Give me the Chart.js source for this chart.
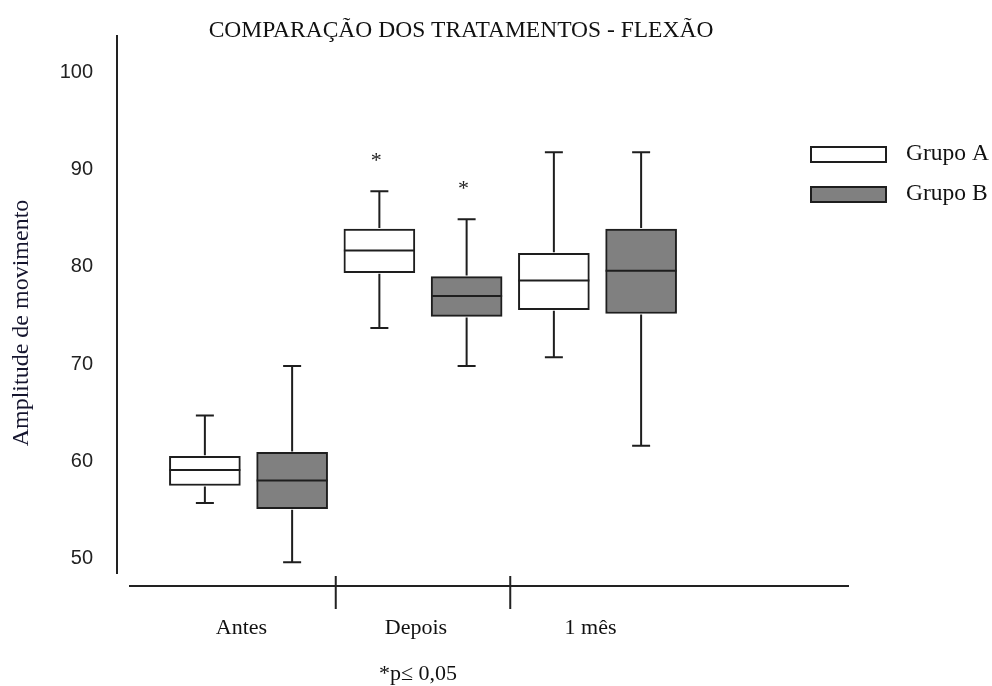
<!DOCTYPE html>
<html lang="pt">
<head>
<meta charset="utf-8">
<title>Comparação dos tratamentos - flexão</title>
<script src="https://cdn.jsdelivr.net/npm/chart.js@4/dist/chart.umd.min.js"></script>
<style>
  html, body { margin: 0; padding: 0; background: #ffffff; }
  #wrap { width: 992px; height: 686px; position: relative; }
</style>
</head>
<body>
<div id="wrap"><canvas id="chart" width="992" height="686"></canvas></div>
<script>
// Momentos de avaliação
const CATEGORIES = ['Antes', 'Depois', '1 mês'];

// Grupo A: mínimo, 1º quartil, mediana, 3º quartil, máximo
const A_MIN = [55.7, 73.7, 70.7];
const A_Q1  = [57.5, 79.4, 75.6];
const A_MED = [59.1, 81.7, 78.6];
const A_Q3  = [60.5, 83.9, 81.4];
const A_MAX = [64.7, 87.8, 91.8];

// Grupo B
const B_MIN = [49.6, 69.8, 61.6];
const B_Q1  = [55.1, 74.9, 75.2];
const B_MED = [58.0, 77.0, 79.6];
const B_Q3  = [60.9, 79.0, 83.9];
const B_MAX = [69.8, 84.9, 91.8];

// Diferença significativa (p ≤ 0,05) marcada com asterisco
const SIG_A = [false, true, false];
const SIG_B = [false, true, false];

const Y_TICKS = [50, 60, 70, 80, 90, 100];

const SERIF = '"Liberation Serif", "Times New Roman", serif';
const SANS = '"Liberation Sans", Arial, sans-serif';
const INK = '#1e1e1e';

const GROUPS = [
  { label: 'Grupo A', fill: '#ffffff', min: A_MIN, q1: A_Q1, med: A_MED, q3: A_Q3, max: A_MAX, sig: SIG_A, shift: -0.25 },
  { label: 'Grupo B', fill: '#808080', min: B_MIN, q1: B_Q1, med: B_MED, q3: B_Q3, max: B_MAX, sig: SIG_B, shift: 0.25 }
];

// Caixas (intervalo interquartil) como barras flutuantes
const datasets = GROUPS.map(g => ({
  label: g.label,
  data: CATEGORIES.map((c, i) => ({ x: i + g.shift, y: [g.q1[i], g.q3[i]] })),
  backgroundColor: g.fill,
  borderColor: INK,
  borderWidth: 2,
  borderSkipped: false,
  barThickness: 71,
  grouped: false
}));

// Bigodes, medianas, asteriscos, eixos e textos
const boxPlotDecor = {
  id: 'boxPlotDecor',
  afterDatasetsDraw(chart) {
    const { ctx, chartArea } = chart;
    const y = chart.scales.y;
    const x = chart.scales.x;
    ctx.save();
    ctx.strokeStyle = INK;
    ctx.lineWidth = 2;
    ctx.lineCap = 'butt';

    GROUPS.forEach((g, di) => {
      const meta = chart.getDatasetMeta(di);
      meta.data.forEach((bar, i) => {
        const { x: cx, width } = bar.getProps(['x', 'width'], true);
        const half = width / 2;
        const pMax = y.getPixelForValue(g.max[i]);
        const pMin = y.getPixelForValue(g.min[i]);
        const pQ3 = y.getPixelForValue(g.q3[i]);
        const pQ1 = y.getPixelForValue(g.q1[i]);
        const pMed = y.getPixelForValue(g.med[i]);
        const cap = 9;
        ctx.beginPath();
        ctx.moveTo(cx, pQ3 - 1); ctx.lineTo(cx, pMax);
        ctx.moveTo(cx - cap, pMax); ctx.lineTo(cx + cap, pMax);
        ctx.moveTo(cx, pQ1 + 1); ctx.lineTo(cx, pMin);
        ctx.moveTo(cx - cap, pMin); ctx.lineTo(cx + cap, pMin);
        ctx.moveTo(cx - half, pMed); ctx.lineTo(cx + half, pMed);
        ctx.stroke();

        if (g.sig[i]) {
          ctx.font = '22px ' + SERIF;
          ctx.fillStyle = '#222';
          ctx.textAlign = 'center';
          ctx.textBaseline = 'alphabetic';
          const m = ctx.measureText('*');
          const cy = pMax - 34;
          ctx.fillText('*', cx - 3, cy + (m.actualBoundingBoxAscent - m.actualBoundingBoxDescent) / 2);
        }
      });
    });

    // Eixo X com separadores entre os momentos
    const axisY = chartArea.bottom + 13;
    ctx.strokeStyle = '#222';
    ctx.beginPath();
    ctx.moveTo(chartArea.left + 12, axisY);
    ctx.lineTo(chartArea.right, axisY);
    for (let k = 0; k < CATEGORIES.length - 1; k++) {
      const px = x.getPixelForValue(k + 0.5);
      ctx.moveTo(px, axisY - 10);
      ctx.lineTo(px, axisY + 23);
    }
    ctx.stroke();

    ctx.fillStyle = '#111';
    ctx.textBaseline = 'middle';
    ctx.textAlign = 'center';

    // Título
    ctx.font = '23.5px ' + SERIF;
    ctx.fillText('COMPARAÇÃO DOS TRATAMENTOS - FLEXÃO', 461, 31);

    // Nota de rodapé
    ctx.font = '22px ' + SERIF;
    ctx.fillText('*p≤ 0,05', 418, 674);

    // Título do eixo Y
    ctx.save();
    ctx.translate(22, 323);
    ctx.rotate(-Math.PI / 2);
    ctx.font = '24px ' + SERIF;
    ctx.fillStyle = '#15152e';
    ctx.fillText('Amplitude de movimento', 0, 0);
    ctx.restore();

    // Legenda
    GROUPS.forEach((g, di) => {
      const top = 147 + di * 40;
      ctx.fillStyle = g.fill;
      ctx.fillRect(811, top, 75, 15);
      ctx.strokeStyle = INK;
      ctx.lineWidth = 2;
      ctx.strokeRect(811, top, 75, 15);
      ctx.fillStyle = '#111';
      ctx.font = '23.5px ' + SERIF;
      ctx.textAlign = 'left';
      ctx.fillText(g.label, 906, top + 7);
    });
    ctx.restore();
  }
};

new Chart(document.getElementById('chart'), {
  type: 'bar',
  data: { datasets },
  options: {
    responsive: false,
    animation: false,
    events: [],
    layout: { padding: { top: 35, right: 143, left: 0, bottom: 0 } },
    plugins: { legend: { display: false }, title: { display: false }, tooltip: { enabled: false } },
    scales: {
      x: {
        type: 'linear',
        offset: false,
        min: -0.7536,
        max: 3.4413,
        grid: { display: false, drawTicks: false, offset: false },
        border: { display: false },
        // rótulos dos momentos ligeiramente à esquerda do centro de cada par de caixas
        afterBuildTicks(scale) { scale.ticks = CATEGORIES.map((c, i) => ({ value: i - 0.04 })); },
        afterFit(scale) { scale.height = 113; },
        ticks: {
          padding: 42,
          font: { family: SERIF, size: 22 },
          color: '#111',
          maxRotation: 0,
          callback: (v, idx) => CATEGORIES[idx]
        }
      },
      y: {
        min: 48.49,
        max: 103.77,
        grid: { display: false, drawTicks: false },
        border: { display: true, color: '#222', width: 2 },
        afterBuildTicks(scale) { scale.ticks = Y_TICKS.map(v => ({ value: v })); },
        afterFit(scale) { scale.width = 117; },
        ticks: {
          padding: 24,
          font: { family: SANS, size: 20 },
          color: '#222'
        }
      }
    }
  },
  plugins: [boxPlotDecor]
});
</script>
</body>
</html>
